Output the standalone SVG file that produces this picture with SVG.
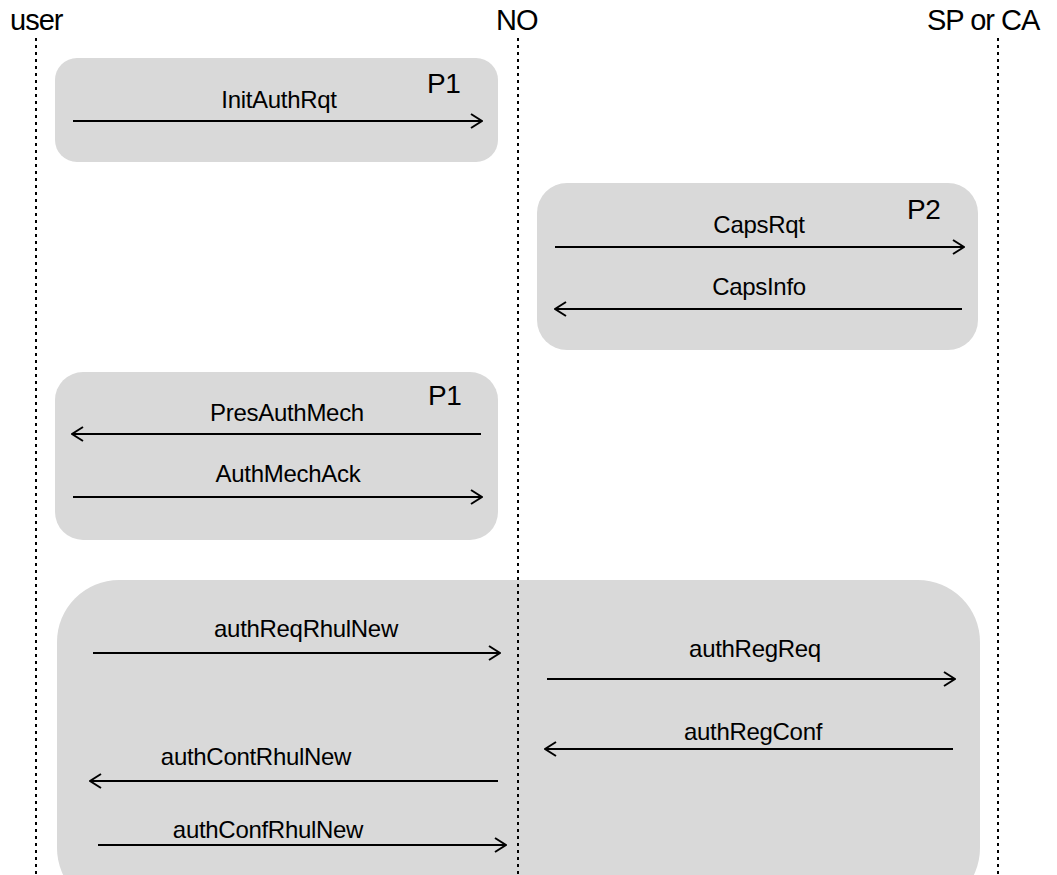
<svg xmlns="http://www.w3.org/2000/svg" width="1057" height="875" viewBox="0 0 1057 875">
  <style>
    .phase { fill: #d9d9d9; stroke: none; }
    .life { stroke: #000; stroke-width: 2; stroke-dasharray: 3 4; fill: none; }
    .msg { stroke: #000; stroke-width: 2; fill: none; marker-end: url(#open); }
    .head { font-family: "Liberation Sans", Arial, sans-serif; font-size: 29px; letter-spacing: -1px; fill: #000; }
    .lbl { font-family: "Liberation Sans", Arial, sans-serif; font-size: 24px; letter-spacing: -0.3px; fill: #000; text-anchor: middle; }
    .tag { font-family: "Liberation Sans", Arial, sans-serif; font-size: 28px; letter-spacing: -0.5px; fill: #000; }
  </style>
  <defs>
    <marker id="open" markerUnits="userSpaceOnUse" viewBox="0 0 13 17" markerWidth="13" markerHeight="17" refX="12" refY="8.5" orient="auto">
      <path d="M1,1.5 L12,8.5 L1,15.5" fill="none" stroke="#000" stroke-width="2"/>
    </marker>
  </defs>
  <rect width="1057" height="875" fill="#fff"/>

  <!-- phase boxes -->
  <g id="phase-p1-init">
    <rect class="phase" x="55" y="58" width="443" height="104" rx="22"/>
    <text class="tag" x="427" y="93">P1</text>
  </g>
  <g id="phase-p2-caps">
    <rect class="phase" x="537" y="183" width="441" height="167" rx="30"/>
    <text class="tag" x="907" y="219">P2</text>
  </g>
  <g id="phase-p1-mech">
    <rect class="phase" x="55" y="372" width="443" height="168" rx="28"/>
    <text class="tag" x="428" y="405">P1</text>
  </g>
  <g id="phase-registration">
    <rect class="phase" x="57" y="580" width="923" height="330" rx="62"/>
  </g>

  <!-- participants and lifelines -->
  <g id="user">
    <text class="head" x="10" y="30">user</text>
    <line class="life" x1="36" y1="38" x2="36" y2="875"/>
  </g>
  <g id="no">
    <text class="head" x="496" y="30">NO</text>
    <line class="life" x1="518" y1="38" x2="518" y2="875"/>
  </g>
  <g id="sp-or-ca">
    <text class="head" x="927" y="30">SP or CA</text>
    <line class="life" x1="998" y1="38" x2="998" y2="875"/>
  </g>

  <!-- messages -->
  <g id="connectors">
    <line class="msg" x1="73" y1="121" x2="482" y2="121"/>
    <text class="lbl" x="279" y="108">InitAuthRqt</text>

    <line class="msg" x1="555" y1="247" x2="964" y2="247"/>
    <text class="lbl" x="759" y="233">CapsRqt</text>
    <line class="msg" x1="962" y1="309" x2="555" y2="309"/>
    <text class="lbl" x="759" y="295">CapsInfo</text>

    <line class="msg" x1="481" y1="434" x2="72" y2="434"/>
    <text class="lbl" x="287" y="421">PresAuthMech</text>
    <line class="msg" x1="73" y1="497" x2="482" y2="497"/>
    <text class="lbl" x="288" y="482">AuthMechAck</text>

    <line class="msg" x1="93" y1="653" x2="500" y2="653"/>
    <text class="lbl" x="306" y="637">authReqRhulNew</text>
    <line class="msg" x1="547" y1="679" x2="955" y2="679"/>
    <text class="lbl" x="755" y="657">authRegReq</text>
    <line class="msg" x1="953" y1="749" x2="545" y2="749"/>
    <text class="lbl" x="753" y="740">authRegConf</text>
    <line class="msg" x1="498" y1="781" x2="90" y2="781"/>
    <text class="lbl" x="256" y="765">authContRhulNew</text>
    <line class="msg" x1="98" y1="845" x2="506" y2="845"/>
    <text class="lbl" x="268" y="838">authConfRhulNew</text>
  </g>
</svg>
